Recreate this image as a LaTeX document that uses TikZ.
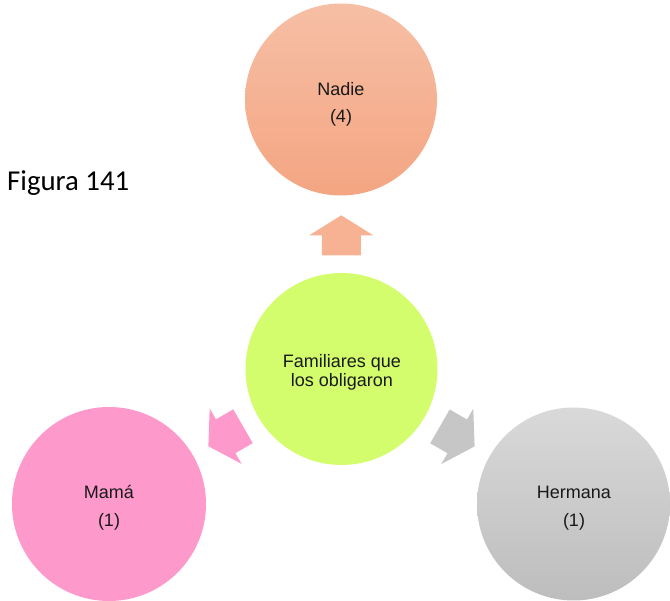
\documentclass[tikz,border=0pt]{standalone}
\usepackage{fontspec}
\setmainfont{Liberation Sans}
\newfontfamily\calibrifont{Carlito}
\definecolor{nadTop}{RGB}{246,191,165}
\definecolor{nadBot}{RGB}{244,165,130}
\definecolor{ctrc}{RGB}{211,253,108}
\definecolor{pinkc}{RGB}{254,153,204}
\definecolor{greyTop}{RGB}{217,217,217}
\definecolor{greyBot}{RGB}{189,189,189}
\definecolor{arrOr}{RGB}{246,178,146}
\definecolor{arrGr}{RGB}{198,198,198}
\begin{document}
\begin{tikzpicture}[x=1pt,y=1pt]
\tikzset{
  bubble/.style={circle, draw=none, minimum size=192pt, inner sep=0pt},
  lbl/.style={font=\fontsize{18}{20}\selectfont, anchor=base, inner sep=0pt, text=black!90},
  blockarrow/.pic={\path[pic actions] (-20,-19.5) -- (0,-19.5) -- (0,-32) -- (20,0) -- (0,32) -- (0,19.5) -- (-20,19.5) -- cycle;}
}
\useasboundingbox (0,0) rectangle (670,601);
% circles
\node[bubble, top color=nadTop, bottom color=nadBot] (nadie) at (341,501.5) {};
\node[bubble, fill=ctrc] (ctr) at (341.5,232) {};
\node[bubble, fill=pinkc, minimum size=194pt] (mama) at (109,97) {};
\node[bubble, top color=greyTop, bottom color=greyBot, minimum size=193pt] (herm) at (573.5,97) {};
% texts
\node[lbl] (t1a) at (341,505.3) {Nadie};
\node[lbl] (t1b) at (341,478) {(4)};
\node[lbl] (t2a) at (342,233.3) {Familiares que};
\node[lbl] (t2b) at (342,214.3) {los obligaron};
\node[lbl] (t3a) at (109,102.7) {Mamá};
\node[lbl] (t3b) at (109,74.3) {(1)};
\node[lbl] (t4a) at (574,102.7) {Hermana};
\node[lbl] (t4b) at (574,74.3) {(1)};
\node[anchor=base west, inner sep=0pt, font=\calibrifont\fontsize{28.8}{30}\selectfont] (fig) at (7,410) {Figura 141};
% block arrows
\path (ctr) -- (nadie) coordinate[pos=0.486] (m1);
\path (ctr) -- (mama) coordinate[pos=0.5] (m2);
\path (ctr) -- (herm) coordinate[pos=0.5] (m3);
\pic[rotate=90, fill=arrOr] at (m1) {blockarrow};
\pic[rotate=210, fill=pinkc] at (m2) {blockarrow};
\pic[rotate=-30, fill=arrGr] at (m3) {blockarrow};
\end{tikzpicture}
\end{document}
